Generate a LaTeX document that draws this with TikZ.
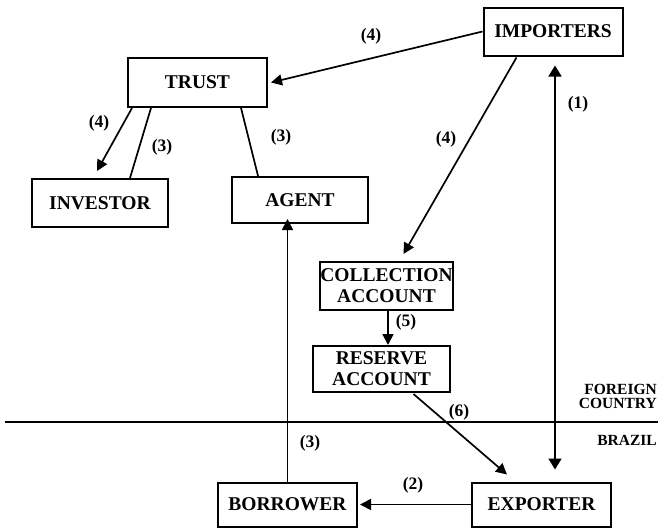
\documentclass[tikz,border=0pt]{standalone}
\usepackage{fontspec}
\setmainfont{Liberation Serif}
\usetikzlibrary{arrows.meta,calc}
\begin{document}
\begin{tikzpicture}[x=1pt,y=-1pt,
  box/.style={draw,line width=2pt,inner sep=0pt,font=\fontsize{19.5}{21}\selectfont\bfseries,align=center},
  lbl/.style={inner sep=0pt,font=\fontsize{17.5}{17.5}\selectfont\bfseries},
  small/.style={inner sep=0pt,font=\fontsize{15.5}{14}\selectfont\bfseries,align=right},
  conn/.style={line width=1.7pt},
  arr/.style={conn,-{Triangle[width=11pt,length=11pt]}},
  arrs/.style={conn,{Triangle[width=13pt,length=11pt]}-{Triangle[width=13pt,length=11pt]}}
]
\useasboundingbox (0,0) rectangle (658,528);
% boxes
\node[box,minimum width=139pt,minimum height=48pt] (imp) at (553,31.5) {IMPORTERS};
\node[box,minimum width=139pt,minimum height=49pt] (trust) at (197.5,82.5) {TRUST};
\node[box,minimum width=136pt,minimum height=48pt] (inv) at (100,203) {INVESTOR};
\node[box,minimum width=136pt,minimum height=46pt] (agent) at (300,200) {AGENT};
\node[box,minimum width=133pt,minimum height=48pt] (coll) at (386.5,286) {COLLECTION\\ACCOUNT};
\node[box,minimum width=137pt,minimum height=46pt] (res) at (381.5,369) {RESERVE\\ACCOUNT};
\node[box,minimum width=139pt,minimum height=44pt] (bor) at (287.5,504.5) {BORROWER};
\node[box,minimum width=139pt,minimum height=44pt] (exp) at (541.5,504.5) {EXPORTER};
% border line
\coordinate (lineL) at (5,422);
\coordinate (lineR) at (658,422);
\draw[line width=1.7pt] (lineL) -- (lineR);
\node[small,anchor=south east] (foreign) at (657,409) {FOREIGN\\COUNTRY};
\node[small,anchor=north east] (brazil) at (657,435) {BRAZIL};
% connectors
\draw[arr] (imp.west) -- ($(trust.east)+(3,0)$);
\draw[arr] ($(imp.south west)+(34,1)$) -- ($(coll.north)+(17,-7)$);
\draw[arrs] ($(imp.south)+(2,9)$) -- ($(exp.north)+(13.5,-12)$);
\draw[arr] ($(trust.south west)+(5,0)$) -- ($(inv.north)+(-3,-7)$);
\draw[conn] ($(trust.south west)+(24,0)$) -- ($(inv.north)+(30,0)$);
\draw[conn] ($(trust.south east)+(-27,0)$) -- ($(agent.north)+(-42,0)$);
\draw[arr] ($(coll.south)+(1.5,0)$) -- ($(res.north)+(6.5,0)$);
\draw[arr] ($(res.south)+(32,1)$) -- ($(exp.north)+(-34.5,-7)$);
\draw[arr] (exp.west) -- ($(bor.east)+(2,0)$);
\draw[arr,shorten >=-5pt] (bor.north) -- (bor.north |- agent.south);
% labels
\node[lbl] (l4a) at (371,36) {(4)};
\node[lbl] (l1) at (578,104) {(1)};
\node[lbl] (l4b) at (446,139) {(4)};
\node[lbl] (l4c) at (99,123) {(4)};
\node[lbl] (l3a) at (162,147) {(3)};
\node[lbl] (l3b) at (281,137) {(3)};
\node[lbl] (l5) at (406,322) {(5)};
\node[lbl] (l6) at (459,412) {(6)};
\node[lbl] (l3c) at (310,443) {(3)};
\node[lbl] (l2) at (413,485) {(2)};
\end{tikzpicture}
\end{document}
